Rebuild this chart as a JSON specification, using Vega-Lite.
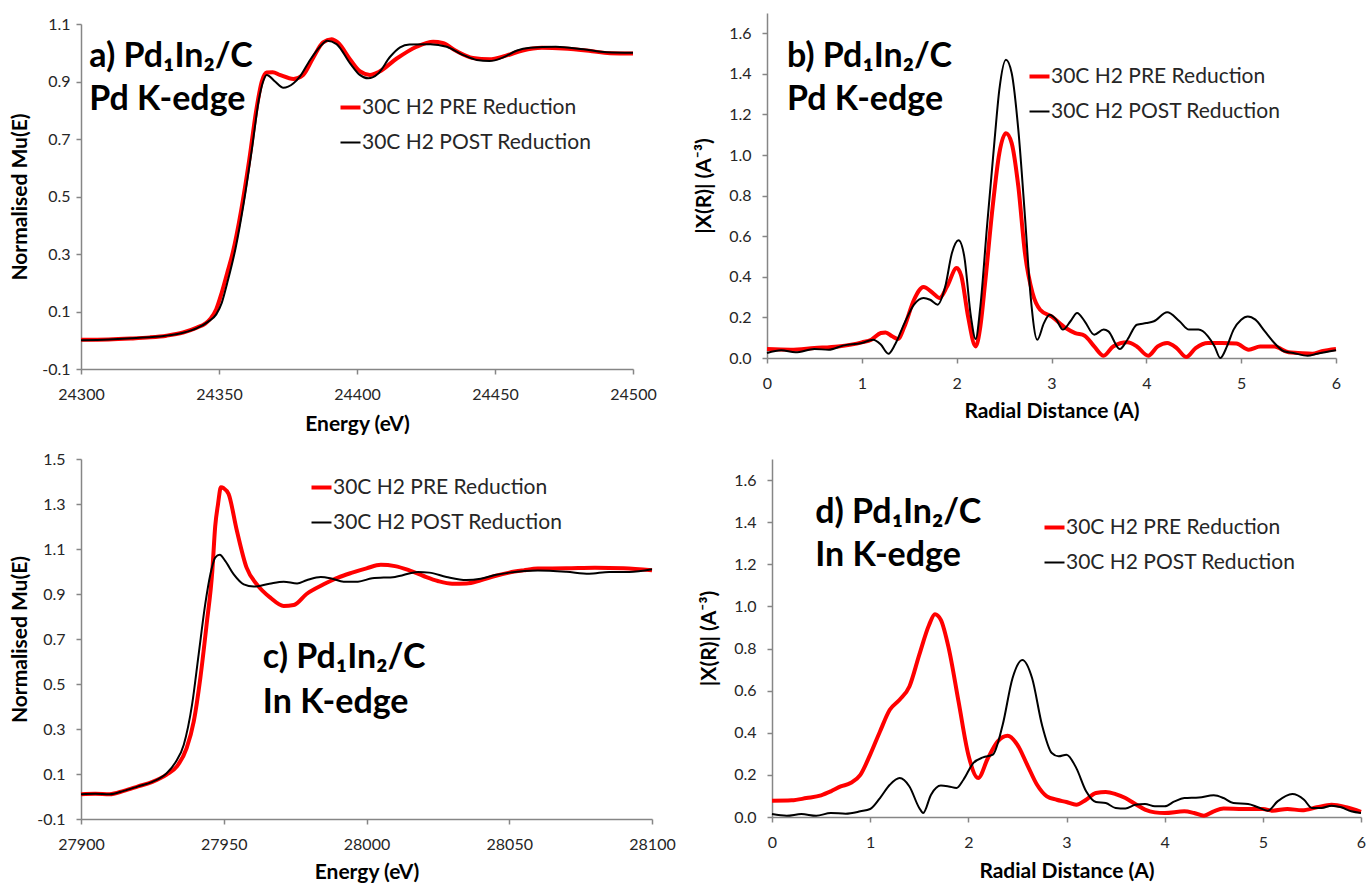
{
  "$schema": "https://vega.github.io/schema/vega-lite/v6.json",
  "padding": {"left": 9, "top": 13, "right": 5, "bottom": 5},
  "background": "white",
  "config": {
    "view": {"stroke": null},
    "font": "Lato",
    "axis": {"grid": false, "domainColor": "#868686", "domainWidth": 1.5, "tickColor": "#868686", "tickWidth": 1.5, "tickSize": 5, "labelFont": "Lato", "labelFontSize": 16, "labelColor": "#262626", "labelPadding": 5, "labelFlush": false, "labelOverlap": false, "titleFont": "Lato", "titleFontSize": 21, "titleFontWeight": "bold", "titleColor": "#000000"},
    "axisX": {"labelPadding": 12},
    "legend": {"orient": "none", "labelFont": "Lato", "labelFontSize": 21, "labelColor": "#262626", "labelLimit": 0, "symbolType": "stroke", "symbolSize": 400, "labelOffset": 1, "rowPadding": 13, "padding": 0, "title": null}
  },
  "datasets": {
    "a": [
      {"x":24300,"y":0.002,"s":"PRE"},{"x":24310,"y":0.003,"s":"PRE"},{"x":24318,"y":0.006,"s":"PRE"},{"x":24325,"y":0.01,"s":"PRE"},{"x":24331,"y":0.016,"s":"PRE"},{"x":24337,"y":0.027,"s":"PRE"},{"x":24342,"y":0.044,"s":"PRE"},{"x":24345,"y":0.058,"s":"PRE"},{"x":24347,"y":0.076,"s":"PRE"},{"x":24349,"y":0.108,"s":"PRE"},{"x":24351,"y":0.166,"s":"PRE"},{"x":24353,"y":0.235,"s":"PRE"},{"x":24355,"y":0.305,"s":"PRE"},{"x":24358,"y":0.45,"s":"PRE"},{"x":24361,"y":0.63,"s":"PRE"},{"x":24363.5,"y":0.8,"s":"PRE"},{"x":24365.5,"y":0.9,"s":"PRE"},{"x":24367.3,"y":0.931,"s":"PRE"},{"x":24369.5,"y":0.932,"s":"PRE"},{"x":24372,"y":0.923,"s":"PRE"},{"x":24377,"y":0.909,"s":"PRE"},{"x":24380.5,"y":0.923,"s":"PRE"},{"x":24384,"y":0.98,"s":"PRE"},{"x":24387.7,"y":1.036,"s":"PRE"},{"x":24390.8,"y":1.047,"s":"PRE"},{"x":24393,"y":1.036,"s":"PRE"},{"x":24397.5,"y":0.977,"s":"PRE"},{"x":24401,"y":0.936,"s":"PRE"},{"x":24404.7,"y":0.923,"s":"PRE"},{"x":24408,"y":0.934,"s":"PRE"},{"x":24414.4,"y":0.98,"s":"PRE"},{"x":24421.6,"y":1.021,"s":"PRE"},{"x":24427.6,"y":1.038,"s":"PRE"},{"x":24431,"y":1.034,"s":"PRE"},{"x":24436,"y":1.006,"s":"PRE"},{"x":24442,"y":0.982,"s":"PRE"},{"x":24448,"y":0.977,"s":"PRE"},{"x":24454,"y":0.99,"s":"PRE"},{"x":24460,"y":1.008,"s":"PRE"},{"x":24467,"y":1.017,"s":"PRE"},{"x":24474.6,"y":1.015,"s":"PRE"},{"x":24484,"y":1.007,"s":"PRE"},{"x":24491.7,"y":0.998,"s":"PRE"},{"x":24500,"y":0.997,"s":"PRE"},
      {"x":24300,"y":0.0,"s":"POST"},{"x":24310,"y":0.003,"s":"POST"},{"x":24320,"y":0.008,"s":"POST"},{"x":24330,"y":0.015,"s":"POST"},{"x":24337,"y":0.026,"s":"POST"},{"x":24342,"y":0.042,"s":"POST"},{"x":24346,"y":0.064,"s":"POST"},{"x":24349,"y":0.09,"s":"POST"},{"x":24351,"y":0.13,"s":"POST"},{"x":24353,"y":0.2,"s":"POST"},{"x":24356,"y":0.32,"s":"POST"},{"x":24359,"y":0.48,"s":"POST"},{"x":24362,"y":0.67,"s":"POST"},{"x":24364.5,"y":0.84,"s":"POST"},{"x":24366,"y":0.9,"s":"POST"},{"x":24367.3,"y":0.923,"s":"POST"},{"x":24370.3,"y":0.9,"s":"POST"},{"x":24373.3,"y":0.878,"s":"POST"},{"x":24377,"y":0.894,"s":"POST"},{"x":24379.3,"y":0.917,"s":"POST"},{"x":24383,"y":0.975,"s":"POST"},{"x":24386.6,"y":1.021,"s":"POST"},{"x":24389.2,"y":1.042,"s":"POST"},{"x":24392.6,"y":1.03,"s":"POST"},{"x":24397.5,"y":0.963,"s":"POST"},{"x":24401,"y":0.923,"s":"POST"},{"x":24404,"y":0.911,"s":"POST"},{"x":24407.7,"y":0.928,"s":"POST"},{"x":24412,"y":0.986,"s":"POST"},{"x":24415.6,"y":1.019,"s":"POST"},{"x":24419,"y":1.029,"s":"POST"},{"x":24426.5,"y":1.03,"s":"POST"},{"x":24432.5,"y":1.021,"s":"POST"},{"x":24438.5,"y":0.992,"s":"POST"},{"x":24443.4,"y":0.975,"s":"POST"},{"x":24448,"y":0.971,"s":"POST"},{"x":24453,"y":0.984,"s":"POST"},{"x":24458,"y":1.008,"s":"POST"},{"x":24462.7,"y":1.017,"s":"POST"},{"x":24472,"y":1.021,"s":"POST"},{"x":24482,"y":1.012,"s":"POST"},{"x":24490.5,"y":1.002,"s":"POST"},{"x":24500,"y":1.0,"s":"POST"}
    ],
    "b": [
      {"x":0,"y":0.044,"s":"PRE"},{"x":0.25,"y":0.041,"s":"PRE"},{"x":0.5,"y":0.049,"s":"PRE"},{"x":0.75,"y":0.057,"s":"PRE"},{"x":1.0,"y":0.077,"s":"PRE"},{"x":1.1,"y":0.09,"s":"PRE"},{"x":1.2,"y":0.123,"s":"PRE"},{"x":1.25,"y":0.126,"s":"PRE"},{"x":1.32,"y":0.107,"s":"PRE"},{"x":1.38,"y":0.094,"s":"PRE"},{"x":1.45,"y":0.156,"s":"PRE"},{"x":1.55,"y":0.287,"s":"PRE"},{"x":1.65,"y":0.35,"s":"PRE"},{"x":1.75,"y":0.32,"s":"PRE"},{"x":1.82,"y":0.296,"s":"PRE"},{"x":1.9,"y":0.353,"s":"PRE"},{"x":2.0,"y":0.443,"s":"PRE"},{"x":2.05,"y":0.402,"s":"PRE"},{"x":2.12,"y":0.205,"s":"PRE"},{"x":2.2,"y":0.057,"s":"PRE"},{"x":2.25,"y":0.156,"s":"PRE"},{"x":2.3,"y":0.37,"s":"PRE"},{"x":2.38,"y":0.747,"s":"PRE"},{"x":2.45,"y":1.01,"s":"PRE"},{"x":2.52,"y":1.108,"s":"PRE"},{"x":2.58,"y":1.059,"s":"PRE"},{"x":2.65,"y":0.846,"s":"PRE"},{"x":2.72,"y":0.517,"s":"PRE"},{"x":2.8,"y":0.32,"s":"PRE"},{"x":2.88,"y":0.238,"s":"PRE"},{"x":3.0,"y":0.205,"s":"PRE"},{"x":3.15,"y":0.148,"s":"PRE"},{"x":3.25,"y":0.123,"s":"PRE"},{"x":3.35,"y":0.11,"s":"PRE"},{"x":3.45,"y":0.057,"s":"PRE"},{"x":3.55,"y":0.011,"s":"PRE"},{"x":3.65,"y":0.057,"s":"PRE"},{"x":3.8,"y":0.077,"s":"PRE"},{"x":3.9,"y":0.057,"s":"PRE"},{"x":4.02,"y":0.011,"s":"PRE"},{"x":4.12,"y":0.057,"s":"PRE"},{"x":4.22,"y":0.074,"s":"PRE"},{"x":4.32,"y":0.049,"s":"PRE"},{"x":4.42,"y":0.005,"s":"PRE"},{"x":4.52,"y":0.049,"s":"PRE"},{"x":4.65,"y":0.074,"s":"PRE"},{"x":4.8,"y":0.074,"s":"PRE"},{"x":4.95,"y":0.071,"s":"PRE"},{"x":5.08,"y":0.041,"s":"PRE"},{"x":5.2,"y":0.057,"s":"PRE"},{"x":5.35,"y":0.057,"s":"PRE"},{"x":5.5,"y":0.028,"s":"PRE"},{"x":5.6,"y":0.025,"s":"PRE"},{"x":5.75,"y":0.021,"s":"PRE"},{"x":5.85,"y":0.033,"s":"PRE"},{"x":6.0,"y":0.044,"s":"PRE"},
      {"x":0,"y":0.025,"s":"POST"},{"x":0.15,"y":0.038,"s":"POST"},{"x":0.3,"y":0.028,"s":"POST"},{"x":0.5,"y":0.044,"s":"POST"},{"x":0.65,"y":0.041,"s":"POST"},{"x":0.8,"y":0.061,"s":"POST"},{"x":1.0,"y":0.074,"s":"POST"},{"x":1.12,"y":0.09,"s":"POST"},{"x":1.2,"y":0.066,"s":"POST"},{"x":1.28,"y":0.021,"s":"POST"},{"x":1.35,"y":0.066,"s":"POST"},{"x":1.45,"y":0.172,"s":"POST"},{"x":1.55,"y":0.263,"s":"POST"},{"x":1.65,"y":0.296,"s":"POST"},{"x":1.72,"y":0.287,"s":"POST"},{"x":1.8,"y":0.263,"s":"POST"},{"x":1.88,"y":0.353,"s":"POST"},{"x":1.95,"y":0.517,"s":"POST"},{"x":2.02,"y":0.58,"s":"POST"},{"x":2.08,"y":0.501,"s":"POST"},{"x":2.15,"y":0.205,"s":"POST"},{"x":2.2,"y":0.094,"s":"POST"},{"x":2.25,"y":0.255,"s":"POST"},{"x":2.32,"y":0.649,"s":"POST"},{"x":2.4,"y":1.076,"s":"POST"},{"x":2.45,"y":1.322,"s":"POST"},{"x":2.52,"y":1.47,"s":"POST"},{"x":2.58,"y":1.404,"s":"POST"},{"x":2.65,"y":1.125,"s":"POST"},{"x":2.72,"y":0.698,"s":"POST"},{"x":2.78,"y":0.304,"s":"POST"},{"x":2.85,"y":0.09,"s":"POST"},{"x":2.92,"y":0.172,"s":"POST"},{"x":2.98,"y":0.213,"s":"POST"},{"x":3.05,"y":0.189,"s":"POST"},{"x":3.12,"y":0.14,"s":"POST"},{"x":3.2,"y":0.181,"s":"POST"},{"x":3.27,"y":0.222,"s":"POST"},{"x":3.35,"y":0.181,"s":"POST"},{"x":3.45,"y":0.115,"s":"POST"},{"x":3.55,"y":0.14,"s":"POST"},{"x":3.6,"y":0.131,"s":"POST"},{"x":3.72,"y":0.044,"s":"POST"},{"x":3.8,"y":0.09,"s":"POST"},{"x":3.9,"y":0.164,"s":"POST"},{"x":4.0,"y":0.172,"s":"POST"},{"x":4.08,"y":0.181,"s":"POST"},{"x":4.22,"y":0.225,"s":"POST"},{"x":4.35,"y":0.181,"s":"POST"},{"x":4.45,"y":0.14,"s":"POST"},{"x":4.55,"y":0.14,"s":"POST"},{"x":4.65,"y":0.107,"s":"POST"},{"x":4.72,"y":0.057,"s":"POST"},{"x":4.78,"y":0.0,"s":"POST"},{"x":4.85,"y":0.057,"s":"POST"},{"x":4.92,"y":0.14,"s":"POST"},{"x":5.0,"y":0.189,"s":"POST"},{"x":5.07,"y":0.205,"s":"POST"},{"x":5.15,"y":0.189,"s":"POST"},{"x":5.25,"y":0.131,"s":"POST"},{"x":5.35,"y":0.074,"s":"POST"},{"x":5.45,"y":0.033,"s":"POST"},{"x":5.55,"y":0.025,"s":"POST"},{"x":5.7,"y":0.011,"s":"POST"},{"x":5.8,"y":0.021,"s":"POST"},{"x":6.0,"y":0.038,"s":"POST"}
    ],
    "c": [
      {"x":27900,"y":0.01,"s":"PRE"},{"x":27905,"y":0.012,"s":"PRE"},{"x":27910,"y":0.01,"s":"PRE"},{"x":27915,"y":0.025,"s":"PRE"},{"x":27920,"y":0.045,"s":"PRE"},{"x":27925,"y":0.065,"s":"PRE"},{"x":27930,"y":0.097,"s":"PRE"},{"x":27933.6,"y":0.134,"s":"PRE"},{"x":27937,"y":0.215,"s":"PRE"},{"x":27939.5,"y":0.334,"s":"PRE"},{"x":27941.8,"y":0.527,"s":"PRE"},{"x":27944,"y":0.765,"s":"PRE"},{"x":27946,"y":1.003,"s":"PRE"},{"x":27947,"y":1.2,"s":"PRE"},{"x":27948,"y":1.3,"s":"PRE"},{"x":27949,"y":1.374,"s":"PRE"},{"x":27950,"y":1.37,"s":"PRE"},{"x":27951.7,"y":1.344,"s":"PRE"},{"x":27954.6,"y":1.181,"s":"PRE"},{"x":27958,"y":1.017,"s":"PRE"},{"x":27961.6,"y":0.943,"s":"PRE"},{"x":27966.3,"y":0.884,"s":"PRE"},{"x":27971,"y":0.847,"s":"PRE"},{"x":27974.5,"y":0.851,"s":"PRE"},{"x":27979,"y":0.9,"s":"PRE"},{"x":27985,"y":0.943,"s":"PRE"},{"x":27990,"y":0.973,"s":"PRE"},{"x":27995,"y":0.995,"s":"PRE"},{"x":28000,"y":1.014,"s":"PRE"},{"x":28005,"y":1.03,"s":"PRE"},{"x":28010,"y":1.024,"s":"PRE"},{"x":28015,"y":1.005,"s":"PRE"},{"x":28020,"y":0.98,"s":"PRE"},{"x":28025,"y":0.958,"s":"PRE"},{"x":28030,"y":0.946,"s":"PRE"},{"x":28035,"y":0.947,"s":"PRE"},{"x":28040,"y":0.961,"s":"PRE"},{"x":28045,"y":0.98,"s":"PRE"},{"x":28050,"y":0.995,"s":"PRE"},{"x":28055,"y":1.005,"s":"PRE"},{"x":28060,"y":1.013,"s":"PRE"},{"x":28070,"y":1.014,"s":"PRE"},{"x":28080,"y":1.017,"s":"PRE"},{"x":28090,"y":1.014,"s":"PRE"},{"x":28100,"y":1.005,"s":"PRE"},
      {"x":27900,"y":0.01,"s":"POST"},{"x":27905,"y":0.012,"s":"POST"},{"x":27910,"y":0.01,"s":"POST"},{"x":27915,"y":0.025,"s":"POST"},{"x":27920,"y":0.045,"s":"POST"},{"x":27925,"y":0.065,"s":"POST"},{"x":27930,"y":0.103,"s":"POST"},{"x":27933,"y":0.15,"s":"POST"},{"x":27936,"y":0.23,"s":"POST"},{"x":27938.9,"y":0.408,"s":"POST"},{"x":27941.2,"y":0.631,"s":"POST"},{"x":27943.5,"y":0.854,"s":"POST"},{"x":27945.3,"y":0.987,"s":"POST"},{"x":27947,"y":1.062,"s":"POST"},{"x":27948.6,"y":1.074,"s":"POST"},{"x":27950.5,"y":1.047,"s":"POST"},{"x":27953.5,"y":0.987,"s":"POST"},{"x":27957,"y":0.943,"s":"POST"},{"x":27960.5,"y":0.933,"s":"POST"},{"x":27966,"y":0.946,"s":"POST"},{"x":27971,"y":0.955,"s":"POST"},{"x":27975.7,"y":0.947,"s":"POST"},{"x":27979,"y":0.961,"s":"POST"},{"x":27984,"y":0.976,"s":"POST"},{"x":27988,"y":0.968,"s":"POST"},{"x":27992,"y":0.955,"s":"POST"},{"x":27997,"y":0.955,"s":"POST"},{"x":28002,"y":0.97,"s":"POST"},{"x":28010,"y":0.976,"s":"POST"},{"x":28018,"y":0.998,"s":"POST"},{"x":28022,"y":0.995,"s":"POST"},{"x":28028,"y":0.976,"s":"POST"},{"x":28035,"y":0.962,"s":"POST"},{"x":28040,"y":0.968,"s":"POST"},{"x":28045,"y":0.984,"s":"POST"},{"x":28050,"y":0.995,"s":"POST"},{"x":28060,"y":1.005,"s":"POST"},{"x":28070,"y":0.999,"s":"POST"},{"x":28078,"y":0.99,"s":"POST"},{"x":28085,"y":0.998,"s":"POST"},{"x":28092,"y":0.998,"s":"POST"},{"x":28100,"y":1.01,"s":"POST"}
    ],
    "d": [
      {"x":0,"y":0.077,"s":"PRE"},{"x":0.2,"y":0.079,"s":"PRE"},{"x":0.35,"y":0.09,"s":"PRE"},{"x":0.5,"y":0.103,"s":"PRE"},{"x":0.6,"y":0.122,"s":"PRE"},{"x":0.7,"y":0.145,"s":"PRE"},{"x":0.8,"y":0.161,"s":"PRE"},{"x":0.9,"y":0.2,"s":"PRE"},{"x":1.0,"y":0.296,"s":"PRE"},{"x":1.1,"y":0.406,"s":"PRE"},{"x":1.2,"y":0.509,"s":"PRE"},{"x":1.3,"y":0.557,"s":"PRE"},{"x":1.4,"y":0.62,"s":"PRE"},{"x":1.5,"y":0.77,"s":"PRE"},{"x":1.6,"y":0.912,"s":"PRE"},{"x":1.66,"y":0.963,"s":"PRE"},{"x":1.72,"y":0.936,"s":"PRE"},{"x":1.8,"y":0.802,"s":"PRE"},{"x":1.9,"y":0.549,"s":"PRE"},{"x":2.0,"y":0.296,"s":"PRE"},{"x":2.1,"y":0.185,"s":"PRE"},{"x":2.2,"y":0.28,"s":"PRE"},{"x":2.3,"y":0.359,"s":"PRE"},{"x":2.4,"y":0.386,"s":"PRE"},{"x":2.5,"y":0.343,"s":"PRE"},{"x":2.6,"y":0.248,"s":"PRE"},{"x":2.7,"y":0.153,"s":"PRE"},{"x":2.8,"y":0.098,"s":"PRE"},{"x":2.9,"y":0.082,"s":"PRE"},{"x":3.0,"y":0.071,"s":"PRE"},{"x":3.1,"y":0.058,"s":"PRE"},{"x":3.2,"y":0.082,"s":"PRE"},{"x":3.3,"y":0.114,"s":"PRE"},{"x":3.4,"y":0.119,"s":"PRE"},{"x":3.5,"y":0.109,"s":"PRE"},{"x":3.6,"y":0.09,"s":"PRE"},{"x":3.7,"y":0.062,"s":"PRE"},{"x":3.8,"y":0.035,"s":"PRE"},{"x":3.9,"y":0.022,"s":"PRE"},{"x":4.0,"y":0.019,"s":"PRE"},{"x":4.2,"y":0.027,"s":"PRE"},{"x":4.3,"y":0.019,"s":"PRE"},{"x":4.4,"y":0.006,"s":"PRE"},{"x":4.5,"y":0.027,"s":"PRE"},{"x":4.6,"y":0.04,"s":"PRE"},{"x":4.8,"y":0.038,"s":"PRE"},{"x":5.0,"y":0.038,"s":"PRE"},{"x":5.1,"y":0.03,"s":"PRE"},{"x":5.25,"y":0.038,"s":"PRE"},{"x":5.4,"y":0.032,"s":"PRE"},{"x":5.55,"y":0.046,"s":"PRE"},{"x":5.7,"y":0.058,"s":"PRE"},{"x":5.85,"y":0.046,"s":"PRE"},{"x":6.0,"y":0.024,"s":"PRE"},
      {"x":0,"y":0.014,"s":"POST"},{"x":0.15,"y":0.006,"s":"POST"},{"x":0.3,"y":0.014,"s":"POST"},{"x":0.45,"y":0.006,"s":"POST"},{"x":0.6,"y":0.019,"s":"POST"},{"x":0.75,"y":0.016,"s":"POST"},{"x":0.9,"y":0.027,"s":"POST"},{"x":1.0,"y":0.038,"s":"POST"},{"x":1.1,"y":0.09,"s":"POST"},{"x":1.2,"y":0.153,"s":"POST"},{"x":1.3,"y":0.185,"s":"POST"},{"x":1.4,"y":0.145,"s":"POST"},{"x":1.5,"y":0.043,"s":"POST"},{"x":1.54,"y":0.019,"s":"POST"},{"x":1.62,"y":0.106,"s":"POST"},{"x":1.72,"y":0.149,"s":"POST"},{"x":1.8,"y":0.145,"s":"POST"},{"x":1.88,"y":0.138,"s":"POST"},{"x":1.95,"y":0.177,"s":"POST"},{"x":2.05,"y":0.256,"s":"POST"},{"x":2.15,"y":0.283,"s":"POST"},{"x":2.25,"y":0.296,"s":"POST"},{"x":2.35,"y":0.438,"s":"POST"},{"x":2.45,"y":0.659,"s":"POST"},{"x":2.55,"y":0.746,"s":"POST"},{"x":2.65,"y":0.659,"s":"POST"},{"x":2.75,"y":0.438,"s":"POST"},{"x":2.85,"y":0.304,"s":"POST"},{"x":2.92,"y":0.288,"s":"POST"},{"x":3.0,"y":0.296,"s":"POST"},{"x":3.1,"y":0.232,"s":"POST"},{"x":3.2,"y":0.122,"s":"POST"},{"x":3.3,"y":0.071,"s":"POST"},{"x":3.4,"y":0.066,"s":"POST"},{"x":3.5,"y":0.043,"s":"POST"},{"x":3.6,"y":0.04,"s":"POST"},{"x":3.7,"y":0.058,"s":"POST"},{"x":3.8,"y":0.062,"s":"POST"},{"x":3.9,"y":0.051,"s":"POST"},{"x":4.0,"y":0.051,"s":"POST"},{"x":4.1,"y":0.074,"s":"POST"},{"x":4.2,"y":0.09,"s":"POST"},{"x":4.35,"y":0.093,"s":"POST"},{"x":4.5,"y":0.103,"s":"POST"},{"x":4.6,"y":0.09,"s":"POST"},{"x":4.7,"y":0.066,"s":"POST"},{"x":4.85,"y":0.062,"s":"POST"},{"x":4.95,"y":0.046,"s":"POST"},{"x":5.05,"y":0.03,"s":"POST"},{"x":5.15,"y":0.074,"s":"POST"},{"x":5.3,"y":0.109,"s":"POST"},{"x":5.42,"y":0.082,"s":"POST"},{"x":5.5,"y":0.043,"s":"POST"},{"x":5.6,"y":0.043,"s":"POST"},{"x":5.7,"y":0.054,"s":"POST"},{"x":5.8,"y":0.046,"s":"POST"},{"x":5.9,"y":0.027,"s":"POST"},{"x":6.0,"y":0.019,"s":"POST"}
    ]
  },
  "resolve": {"scale": {"color": "independent", "x": "independent", "y": "independent"}, "legend": {"color": "independent"}},
  "spacing": 17,
  "vconcat": [
    {
      "spacing": 36,
      "resolve": {"scale": {"color": "independent", "x": "independent", "y": "independent"}, "legend": {"color": "independent"}},
      "hconcat": [
        {
          "width": 552, "height": 356,
          "encoding": {
            "x": {"field": "x", "type": "quantitative", "scale": {"domain": [24300, 24500], "nice": false, "zero": false}, "axis": {"values": [24300, 24350, 24400, 24450, 24500], "format": "d", "title": "Energy (eV)", "titlePadding": 11}},
            "y": {"field": "y", "type": "quantitative", "scale": {"domain": [-0.1, 1.1], "range": [356, 11], "nice": false, "zero": false}, "axis": {"values": [-0.1, 0.1, 0.3, 0.5, 0.7, 0.9, 1.1], "format": ".1f", "labelPadding": 6, "labelExpr": "replace(datum.label, '\u2212', '-')", "title": "Normalised Mu(E)", "titlePadding": 11}}
          },
          "layer": [
            {"data": {"name": "a"}, "transform": [{"filter": "datum.s === 'PRE'"}], "mark": {"type": "line", "interpolate": "monotone", "strokeWidth": 4},
             "encoding": {"color": {"field": "s", "type": "nominal", "scale": {"domain": ["PRE", "POST"], "range": ["#ff0000", "#000000"]},
               "legend": {"legendX": 259, "legendY": 84, "labelExpr": "datum.label === 'PRE' ? '30C H2 PRE Reduction' : '30C H2 POST Reduction'", "encode": {"symbols": {"update": {"strokeWidth": {"signal": "datum.value === 'PRE' ? 4 : 2"}}}}}}}},
            {"data": {"name": "a"}, "transform": [{"filter": "datum.s === 'POST'"}], "mark": {"type": "line", "interpolate": "monotone", "strokeWidth": 2},
             "encoding": {"color": {"field": "s", "type": "nominal"}}},
            {"data": {"values": [{"x": 24303, "y": 0.949, "t": "a) Pd\u2081In\u2082/C\nPd K-edge"}]}, "mark": {"type": "text", "align": "left", "baseline": "alphabetic", "fontSize": 34, "fontWeight": "bold", "font": "Lato, 'Noto Sans', sans-serif", "lineBreak": "\n", "lineHeight": 43, "color": "#000000"}, "encoding": {"text": {"field": "t"}}}
          ]
        },
        {
          "width": 569, "height": 345,
          "encoding": {
            "x": {"field": "x", "type": "quantitative", "scale": {"domain": [0, 6], "nice": false, "zero": false}, "axis": {"values": [0, 1, 2, 3, 4, 5, 6], "format": "d", "title": "Radial Distance (A)", "titlePadding": 9}},
            "y": {"field": "y", "type": "quantitative", "scale": {"domain": [0, 1.7], "nice": false}, "axis": {"values": [0, 0.2, 0.4, 0.6, 0.8, 1.0, 1.2, 1.4, 1.6], "format": ".1f", "labelPadding": 11, "title": "|X(R)| (A\u207B\u00B3)", "titlePadding": 14}}
          },
          "layer": [
            {"data": {"name": "b"}, "transform": [{"filter": "datum.s === 'PRE'"}], "mark": {"type": "line", "interpolate": "monotone", "strokeWidth": 4},
             "encoding": {"color": {"field": "s", "type": "nominal", "scale": {"domain": ["PRE", "POST"], "range": ["#ff0000", "#000000"]},
               "legend": {"legendX": 262, "legendY": 53, "labelExpr": "datum.label === 'PRE' ? '30C H2 PRE Reduction' : '30C H2 POST Reduction'", "encode": {"symbols": {"update": {"strokeWidth": {"signal": "datum.value === 'PRE' ? 4 : 2"}}}}}}}},
            {"data": {"name": "b"}, "transform": [{"filter": "datum.s === 'POST'"}], "mark": {"type": "line", "interpolate": "monotone", "strokeWidth": 2},
             "encoding": {"color": {"field": "s", "type": "nominal"}}},
            {"data": {"values": [{"x": 0.21, "y": 1.433, "t": "b) Pd\u2081In\u2082/C\nPd K-edge"}]}, "mark": {"type": "text", "align": "left", "baseline": "alphabetic", "fontSize": 34, "fontWeight": "bold", "font": "Lato, 'Noto Sans', sans-serif", "lineBreak": "\n", "lineHeight": 43, "color": "#000000"}, "encoding": {"text": {"field": "t"}}}
          ]
        }
      ]
    },
    {
      "spacing": 22,
      "resolve": {"scale": {"color": "independent", "x": "independent", "y": "independent"}, "legend": {"color": "independent"}},
      "hconcat": [
        {
          "width": 571, "height": 360,
          "encoding": {
            "x": {"field": "x", "type": "quantitative", "scale": {"domain": [27900, 28100], "nice": false, "zero": false}, "axis": {"values": [27900, 27950, 28000, 28050, 28100], "format": "d", "title": "Energy (eV)", "titlePadding": 9}},
            "y": {"field": "y", "type": "quantitative", "scale": {"domain": [-0.1, 1.5], "nice": false, "zero": false}, "axis": {"values": [-0.1, 0.1, 0.3, 0.5, 0.7, 0.9, 1.1, 1.3, 1.5], "format": ".1f", "labelPadding": 11, "labelExpr": "replace(datum.label, '\u2212', '-')", "title": "Normalised Mu(E)", "titlePadding": 6}}
          },
          "layer": [
            {"data": {"name": "c"}, "transform": [{"filter": "datum.s === 'PRE'"}], "mark": {"type": "line", "interpolate": "monotone", "strokeWidth": 4},
             "encoding": {"color": {"field": "s", "type": "nominal", "scale": {"domain": ["PRE", "POST"], "range": ["#ff0000", "#000000"]},
               "legend": {"legendX": 230, "legendY": 18, "labelExpr": "datum.label === 'PRE' ? '30C H2 PRE Reduction' : '30C H2 POST Reduction'", "encode": {"symbols": {"update": {"strokeWidth": {"signal": "datum.value === 'PRE' ? 4 : 2"}}}}}}}},
            {"data": {"name": "c"}, "transform": [{"filter": "datum.s === 'POST'"}], "mark": {"type": "line", "interpolate": "monotone", "strokeWidth": 2},
             "encoding": {"color": {"field": "s", "type": "nominal"}}},
            {"data": {"values": [{"x": 27963.7, "y": 0.572, "t": "c) Pd\u2081In\u2082/C\nIn K-edge"}]}, "mark": {"type": "text", "align": "left", "baseline": "alphabetic", "fontSize": 34, "fontWeight": "bold", "font": "Lato, 'Noto Sans', sans-serif", "lineBreak": "\n", "lineHeight": 45, "color": "#000000"}, "encoding": {"text": {"field": "t"}}}
          ]
        },
        {
          "width": 589, "height": 358,
          "encoding": {
            "x": {"field": "x", "type": "quantitative", "scale": {"domain": [0, 6], "nice": false, "zero": false}, "axis": {"values": [0, 1, 2, 3, 4, 5, 6], "format": "d", "title": "Radial Distance (A)", "titlePadding": 10}},
            "y": {"field": "y", "type": "quantitative", "scale": {"domain": [0, 1.7], "nice": false}, "axis": {"values": [0, 0.2, 0.4, 0.6, 0.8, 1.0, 1.2, 1.4, 1.6], "format": ".1f", "labelPadding": 11, "title": "|X(R)| (A\u207B\u00B3)", "titlePadding": 14}}
          },
          "layer": [
            {"data": {"name": "d"}, "transform": [{"filter": "datum.s === 'PRE'"}], "mark": {"type": "line", "interpolate": "monotone", "strokeWidth": 4},
             "encoding": {"color": {"field": "s", "type": "nominal", "scale": {"domain": ["PRE", "POST"], "range": ["#ff0000", "#000000"]},
               "legend": {"legendX": 272, "legendY": 58, "labelExpr": "datum.label === 'PRE' ? '30C H2 PRE Reduction' : '30C H2 POST Reduction'", "encode": {"symbols": {"update": {"strokeWidth": {"signal": "datum.value === 'PRE' ? 4 : 2"}}}}}}}},
            {"data": {"name": "d"}, "transform": [{"filter": "datum.s === 'POST'"}], "mark": {"type": "line", "interpolate": "monotone", "strokeWidth": 2},
             "encoding": {"color": {"field": "s", "type": "nominal"}}},
            {"data": {"values": [{"x": 0.44, "y": 1.396, "t": "d) Pd\u2081In\u2082/C\nIn K-edge"}]}, "mark": {"type": "text", "align": "left", "baseline": "alphabetic", "fontSize": 34, "fontWeight": "bold", "font": "Lato, 'Noto Sans', sans-serif", "lineBreak": "\n", "lineHeight": 43, "color": "#000000"}, "encoding": {"text": {"field": "t"}}}
          ]
        }
      ]
    }
  ]
}
